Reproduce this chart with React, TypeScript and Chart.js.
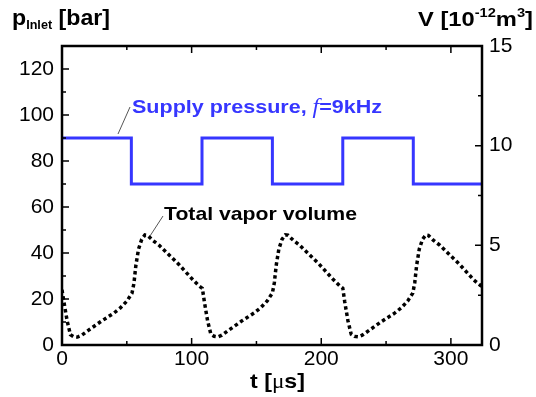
import React, { useEffect, useRef } from 'react';
import { Chart, registerables } from 'chart.js';

Chart.register(...registerables);

// ---- data ----
const timeTicks = [0, 100, 200, 300];
const timeMinorTicks = [50, 150, 250];
const pressureTicks = [0, 20, 40, 60, 80, 100, 120];
const pressureMinorTicks = [10, 30, 50, 70, 90, 110];
const volumeTicks = [0, 5, 10, 15];
const volumeMinorTicks = [2.5, 7.5, 12.5];

const T_MAX = 324;
const P_MAX = 130;
const V_MAX = 15;

// supply pressure [bar], square wave, f = 9 kHz
const pressureTimes = [0, 53.5, 53.5, 108, 108, 162.3, 162.3, 216.6, 216.6, 271, 271, 324];
const pressureValues = [90, 90, 70, 70, 90, 90, 70, 70, 90, 90, 70, 70];

// total vapor volume [1e-12 m^3]
const volumeTimes = [
  0, 1.5, 4, 6.5, 9, 12, 15, 20, 30, 40, 45, 50, 54, 55.5, 57, 59, 61.5, 64, 66, 70, 75, 81, 90, 101, 106,
  108.3, 109.8, 112.3, 114.8, 117.3, 120.3, 123.3, 128.3, 138.3, 148.3, 153.3, 158.3, 162.3, 163.8, 165.3,
  167.3, 169.8, 172.3, 174.3, 178.3, 183.3, 189.3, 198.3, 209.3, 214.3,
  216.6, 218.1, 220.6, 223.1, 225.6, 228.6, 231.6, 236.6, 246.6, 256.6, 261.6, 266.6, 270.6, 272.1, 273.6,
  275.6, 278.1, 280.6, 282.6, 286.6, 291.6, 297.6, 306.6, 317.6, 322.6, 324,
];
const volumeValues = [
  2.77, 2.15, 1.2, 0.52, 0.42, 0.4, 0.48, 0.72, 1.18, 1.6, 1.86, 2.2, 2.6, 3.1, 4.0, 4.8, 5.3, 5.52, 5.5, 5.25, 5.0, 4.62, 4.05, 3.27, 2.95,
  2.84, 2.18, 1.22, 0.55, 0.44, 0.41, 0.49, 0.73, 1.19, 1.61, 1.87, 2.21, 2.61, 3.12, 4.02,
  4.82, 5.31, 5.53, 5.51, 5.26, 5.01, 4.63, 4.06, 3.28, 2.96,
  2.85, 2.17, 1.21, 0.54, 0.43, 0.41, 0.49, 0.72, 1.18, 1.6, 1.86, 2.2, 2.6, 3.11, 4.01,
  4.81, 5.3, 5.52, 5.5, 5.25, 5.0, 4.62, 4.05, 3.27, 3.0, 2.95,
];

const SANS = "'Liberation Sans', Arial, Helvetica, sans-serif";
const SERIF = "'Liberation Serif', 'Times New Roman', serif";
const BLUE = '#3636ff';

type Run = { text: string; font: string; color?: string; dy?: number };

function drawRuns(ctx: CanvasRenderingContext2D, x: number, baseline: number, runs: Run[], targetWidth?: number, color = '#000') {
  ctx.save();
  ctx.textBaseline = 'alphabetic';
  ctx.textAlign = 'left';
  let natural = 0;
  for (const r of runs) {
    ctx.font = r.font;
    natural += ctx.measureText(r.text).width;
  }
  const sx = targetWidth ? targetWidth / natural : 1;
  ctx.translate(x, baseline);
  ctx.scale(sx, 1);
  let cx = 0;
  for (const r of runs) {
    ctx.font = r.font;
    ctx.fillStyle = r.color || color;
    ctx.fillText(r.text, cx, r.dy || 0);
    cx += ctx.measureText(r.text).width;
  }
  ctx.restore();
}

const framePlugin = {
  id: 'frame',
  afterDatasetsDraw(chart: any) {
    const { ctx, chartArea: a, scales } = chart;
    const xs = scales.x, ys = scales.y, y1 = scales.y1;
    ctx.save();
    ctx.strokeStyle = '#000';
    ctx.lineWidth = 1.5;
    const MAJ = 7, MIN = 4;
    ctx.beginPath();
    const xt = (v: number, len: number) => {
      const px = xs.getPixelForValue(v);
      ctx.moveTo(px, a.bottom); ctx.lineTo(px, a.bottom - len);
      ctx.moveTo(px, a.top); ctx.lineTo(px, a.top + len);
    };
    timeTicks.forEach((v) => xt(v, MAJ));
    timeMinorTicks.forEach((v) => xt(v, MIN));
    const yl = (v: number, len: number) => {
      const py = ys.getPixelForValue(v);
      ctx.moveTo(a.left, py); ctx.lineTo(a.left + len, py);
    };
    pressureTicks.forEach((v) => yl(v, MAJ));
    pressureMinorTicks.forEach((v) => yl(v, MIN));
    const yr = (v: number, len: number) => {
      const py = y1.getPixelForValue(v);
      ctx.moveTo(a.right, py); ctx.lineTo(a.right - len, py);
    };
    volumeTicks.forEach((v) => yr(v, MAJ));
    volumeMinorTicks.forEach((v) => yr(v, MIN));
    ctx.stroke();
    ctx.lineWidth = 2.5;
    ctx.strokeRect(a.left, a.top, a.right - a.left, a.bottom - a.top);

    // leader lines
    ctx.strokeStyle = '#555';
    ctx.lineWidth = 1;
    ctx.beginPath();
    ctx.moveTo(118, 134); ctx.lineTo(130, 107);
    ctx.moveTo(150, 236); ctx.lineTo(163, 216);
    ctx.stroke();
    ctx.restore();
  },
  afterDraw(chart: any) {
    const ctx = chart.ctx as CanvasRenderingContext2D;
    const B = (s: number) => `bold ${s}px ${SANS}`;
    drawRuns(ctx, 12, 25, [
      { text: 'p', font: B(22) },
      { text: 'Inlet', font: B(12), dy: 4 },
      { text: ' [bar]', font: B(22) },
    ], 98);
    drawRuns(ctx, 418, 26, [
      { text: 'V [10', font: B(21) },
      { text: '-12', font: B(13), dy: -9 },
      { text: 'm', font: B(21) },
      { text: '3', font: B(13), dy: -9 },
      { text: ']', font: B(21) },
    ], 115);
    drawRuns(ctx, 250, 388, [
      { text: 't [', font: B(21) },
      { text: 'μ', font: `${21}px ${SERIF}` },
      { text: 's]', font: B(21) },
    ], 55);
    drawRuns(ctx, 132, 113, [
      { text: 'Supply pressure, ', font: B(19) },
      { text: 'f', font: `italic 21px ${SERIF}` },
      { text: '=9kHz', font: B(19) },
    ], 250, BLUE);
    drawRuns(ctx, 164, 220, [{ text: 'Total vapor volume', font: B(19) }], 193);
  },
};

export default function App() {
  const ref = useRef<HTMLCanvasElement | null>(null);
  useEffect(() => {
    if (!ref.current) return;
    const tickFont = { family: SANS, size: 21 };
    const chart = new Chart(ref.current, {
      type: 'line',
      data: {
        datasets: [
          {
            label: 'Supply pressure',
            data: pressureTimes.map((t, i) => ({ x: t, y: pressureValues[i] })),
            yAxisID: 'y',
            borderColor: BLUE,
            borderWidth: 3,
            pointRadius: 0,
            tension: 0,
          },
          {
            label: 'Total vapor volume',
            data: volumeTimes.map((t, i) => ({ x: t, y: volumeValues[i] })),
            yAxisID: 'y1',
            borderColor: '#000',
            borderWidth: 3.5,
            borderDash: [3.5, 3],
            pointRadius: 0,
            tension: 0,
          },
        ],
      },
      options: {
        responsive: false,
        maintainAspectRatio: false,
        animation: false,
        events: [],
        layout: { padding: { top: 46, left: 0, right: 0, bottom: 0 } },
        plugins: { legend: { display: false }, tooltip: { enabled: false } },
        scales: {
          x: {
            type: 'linear',
            position: 'bottom',
            min: 0,
            max: T_MAX,
            grid: { display: false, drawTicks: false },
            border: { display: false },
            ticks: { color: '#000', font: tickFont, padding: 2, maxRotation: 0, autoSkip: false },
            afterBuildTicks: (s: any) => { s.ticks = timeTicks.map((v) => ({ value: v })); },
            afterFit: (s: any) => { s.height = 52; },
          },
          y: {
            type: 'linear',
            position: 'left',
            min: 0,
            max: P_MAX,
            grid: { display: false, drawTicks: false },
            border: { display: false },
            ticks: { color: '#000', font: tickFont, padding: 8, autoSkip: false },
            afterBuildTicks: (s: any) => { s.ticks = pressureTicks.map((v) => ({ value: v })); },
            afterFit: (s: any) => { s.width = 62; },
          },
          y1: {
            type: 'linear',
            position: 'right',
            min: 0,
            max: V_MAX,
            grid: { display: false, drawTicks: false },
            border: { display: false },
            ticks: { color: '#000', font: tickFont, padding: 7, autoSkip: false },
            afterBuildTicks: (s: any) => { s.ticks = volumeTicks.map((v) => ({ value: v })); },
            afterFit: (s: any) => { s.width = 54; },
          },
        },
      },
      plugins: [framePlugin],
    });
    return () => chart.destroy();
  }, []);
  return (
    <div style={{ position: 'absolute', left: 0, top: 0, width: 536, height: 397, background: '#fff' }}>
      <canvas ref={ref} width={536} height={397} style={{ display: 'block', width: 536, height: 397 }} />
    </div>
  );
}
